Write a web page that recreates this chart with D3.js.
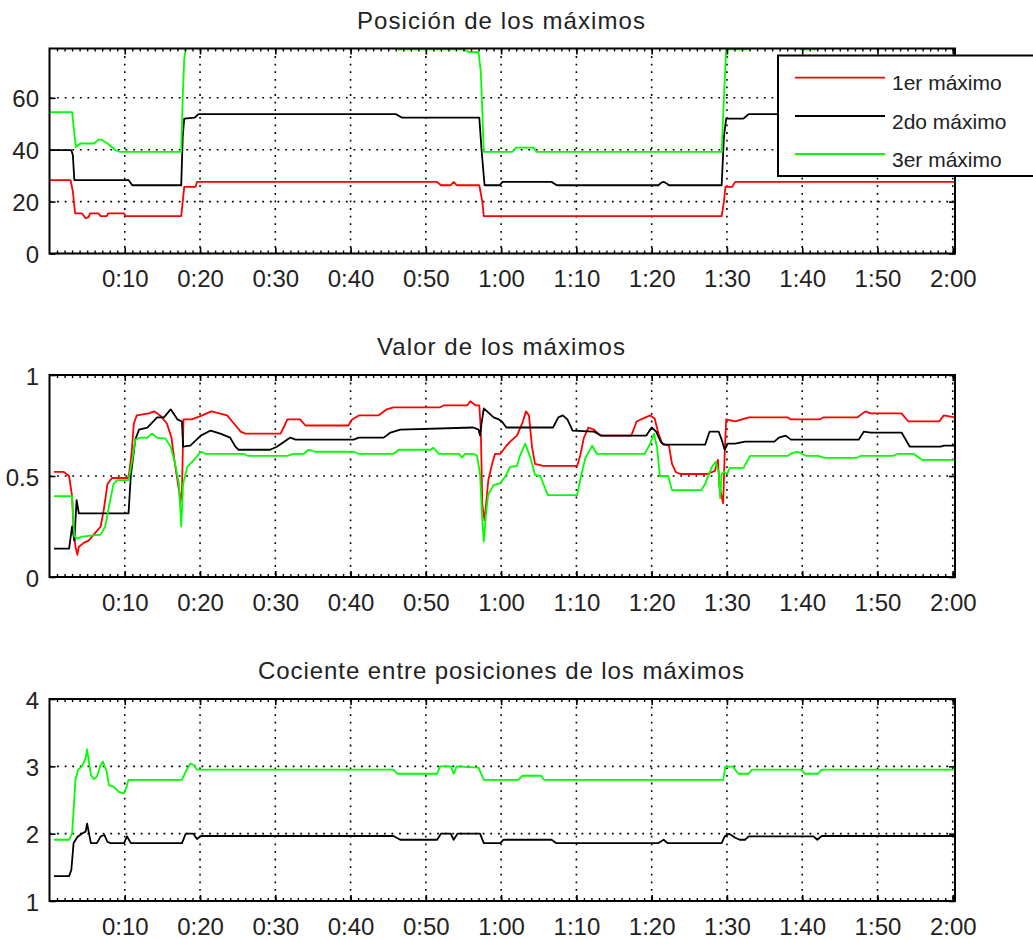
<!DOCTYPE html>
<html>
<head>
<meta charset="utf-8">
<script src="https://cdn.jsdelivr.net/npm/d3@7"></script>
<style>
  html, body { margin: 0; padding: 0; background: #fff; }
  svg { display: block; }
  text { font-family: "Liberation Sans", Arial, sans-serif; fill: #222; }
</style>
</head>
<body>
<script>
// ---------------- DATA ----------------
const xTicks = [10, 20, 30, 40, 50, 60, 70, 80, 90, 100, 110, 120];
const xTickLabels = ["0:10", "0:20", "0:30", "0:40", "0:50", "1:00", "1:10", "1:20", "1:30", "1:40", "1:50", "2:00"];
const xDomain = [0, 120.3];

const seriesNames = ["1er máximo", "2do máximo", "3er máximo"];
const seriesColors = ["#ff0000", "#000000", "#00ff00"];

const titles = ["Posición de los máximos", "Valor de los máximos", "Cociente entre posiciones de los máximos"];

// Panel 1: position of the maxima
const posYTicks = [0, 20, 40, 60];
const posYLabels = ["0", "20", "40", "60"];
const posYDomain = [0, 79];
const posT1 = [0, 2.8, 3.1, 3.4, 4.3, 4.8, 5.2, 5.4, 6.5, 6.8, 7.6, 7.8, 9.9, 10.1, 17.5, 17.7, 17.9, 19.4, 19.6, 51.5, 52.0, 53.3, 53.7, 54.1, 57.1, 57.5, 57.7, 89.3, 89.6, 89.8, 90.7, 91.1, 120.3];
const pos1  = [28.3, 28.3, 24, 15.5, 15.5, 13.6, 14, 15.5, 15.5, 14.4, 14.4, 15.5, 15.5, 14.4, 14.4, 20, 25.7, 25.7, 27.6, 27.6, 26.3, 26.3, 27.6, 26.3, 26.3, 20, 14.4, 14.4, 20, 25.7, 25.7, 27.6, 27.6];
const posT2 = [0, 2.9, 3.1, 3.3, 10.5, 11.0, 17.5, 17.7, 17.9, 19.3, 19.8, 46.0, 46.8, 57.1, 57.4, 57.8, 59.8, 60.2, 66.7, 67.4, 80.9, 81.3, 81.6, 82.0, 82.3, 89.3, 89.6, 89.9, 92.2, 92.9, 120.3];
const pos2  = [39.8, 39.8, 38, 28.3, 28.3, 26.3, 26.3, 45, 52, 52.4, 53.7, 53.7, 52.4, 52.4, 40, 26.3, 26.3, 27.6, 27.6, 26.3, 26.3, 27.3, 27.6, 27.0, 26.3, 26.3, 45, 52, 52, 53.7, 53.7];
const posT3 = [0, 3.0, 3.2, 3.5, 3.7, 4.1, 5.9, 6.5, 6.9, 7.7, 8.8, 9.3, 17.5, 17.7, 17.9, 18.1, 18.5, 45.8, 46.2, 54.8, 55.8, 57.0, 57.3, 57.7, 61.5, 62.0, 64.3, 64.7, 89.3, 89.6, 89.9, 90.2, 92.9, 93.3, 99.4, 99.8, 101.9, 102.3, 120.3];
const pos3  = [54.5, 54.5, 49, 41, 41.5, 42.4, 42.4, 43.9, 43.9, 42.4, 39.8, 39.2, 39.2, 60, 75, 78.7, 82, 82, 78.7, 78.7, 77.6, 77.6, 70, 39.2, 39.2, 40.8, 40.8, 39.2, 39.2, 60, 78.7, 78.7, 78.7, 82, 82, 78.7, 78.7, 82, 82];

// Panel 2: value of the maxima
const valYTicks = [0, 0.5, 1];
const valYLabels = ["0", "0.5", "1"];
const valYDomain = [0, 1];
const valT1 = [0.6, 1.9, 2.6, 3.0, 3.2, 3.45, 3.7, 3.9, 4.6, 5.2, 6.1, 6.8, 7.2, 7.7, 8.3, 10.5, 10.9, 11.2, 11.6, 13.2, 13.9, 14.7, 15.6, 16.2, 16.7, 17.2, 17.4, 17.6, 17.8, 18.9, 20.3, 21.5, 23.6, 24.5, 25.4, 26.0, 30.7, 31.1, 31.6, 33.3, 34.0, 39.7, 40.2, 41.1, 43.7, 44.8, 45.7, 51.9, 52.4, 55.5, 55.9, 56.6, 57.1, 57.3, 57.5, 57.8, 58.0, 58.3, 58.8, 59.2, 59.9, 60.6, 61.2, 62.1, 62.8, 63.3, 63.7, 64.1, 64.5, 65.6, 70.1, 70.5, 71.0, 71.6, 72.3, 73.2, 77.3, 78.0, 78.9, 79.8, 80.4, 80.9, 81.4, 82.3, 82.7, 83.2, 83.8, 87.4, 88.4, 88.8, 89.0, 89.5, 89.7, 89.9, 91.1, 92.9, 98.1, 98.5, 102.3, 102.8, 107.3, 108.4, 109.1, 113.2, 114.1, 118.2, 118.8, 120.3];
const val1  = [0.52, 0.52, 0.50, 0.40, 0.23, 0.15, 0.11, 0.15, 0.17, 0.18, 0.22, 0.25, 0.33, 0.46, 0.49, 0.49, 0.61, 0.76, 0.80, 0.81, 0.82, 0.80, 0.76, 0.69, 0.55, 0.43, 0.37, 0.43, 0.78, 0.78, 0.80, 0.82, 0.80, 0.76, 0.72, 0.71, 0.71, 0.74, 0.78, 0.78, 0.75, 0.75, 0.78, 0.80, 0.80, 0.83, 0.84, 0.84, 0.85, 0.85, 0.87, 0.85, 0.85, 0.73, 0.36, 0.28, 0.36, 0.48, 0.56, 0.61, 0.61, 0.645, 0.67, 0.70, 0.76, 0.82, 0.80, 0.645, 0.56, 0.55, 0.55, 0.60, 0.69, 0.74, 0.73, 0.70, 0.70, 0.77, 0.785, 0.80, 0.785, 0.71, 0.66, 0.65, 0.56, 0.52, 0.51, 0.51, 0.525, 0.58, 0.45, 0.365, 0.61, 0.78, 0.77, 0.79, 0.79, 0.78, 0.78, 0.79, 0.79, 0.82, 0.81, 0.81, 0.77, 0.77, 0.80, 0.79];
const valT2 = [0.6, 2.6, 3.0, 3.3, 3.6, 3.9, 10.5, 10.8, 11.4, 11.9, 13.0, 14.3, 15.2, 16.1, 17.0, 17.6, 17.75, 18.7, 20.1, 21.4, 22.7, 24.0, 24.7, 25.1, 29.3, 30.2, 32.0, 32.7, 40.4, 41.1, 44.4, 45.3, 46.6, 56.3, 57.0, 57.2, 57.4, 57.7, 59.0, 59.7, 60.1, 60.7, 66.9, 67.6, 68.2, 68.8, 69.5, 72.3, 73.3, 79.3, 80.0, 80.6, 81.2, 81.6, 87.1, 87.7, 88.9, 89.3, 89.7, 90.1, 91.1, 92.4, 96.3, 96.9, 97.8, 98.5, 107.5, 108.2, 109.1, 113.2, 114.3, 118.4, 118.8, 120.3];
const val2  = [0.14, 0.14, 0.25, 0.18, 0.38, 0.315, 0.315, 0.50, 0.68, 0.73, 0.74, 0.79, 0.79, 0.83, 0.78, 0.77, 0.645, 0.65, 0.70, 0.725, 0.71, 0.69, 0.645, 0.63, 0.63, 0.645, 0.69, 0.68, 0.68, 0.69, 0.69, 0.715, 0.73, 0.74, 0.73, 0.70, 0.76, 0.835, 0.79, 0.78, 0.77, 0.74, 0.74, 0.79, 0.80, 0.78, 0.725, 0.72, 0.70, 0.70, 0.74, 0.72, 0.67, 0.655, 0.655, 0.72, 0.72, 0.68, 0.63, 0.66, 0.66, 0.67, 0.67, 0.69, 0.70, 0.68, 0.68, 0.72, 0.715, 0.715, 0.645, 0.645, 0.65, 0.65];
const valT3 = [0.6, 3.0, 3.3, 3.7, 4.3, 6.8, 7.4, 7.9, 8.5, 9.0, 10.5, 11.0, 11.4, 12.1, 13.0, 13.6, 14.3, 15.4, 16.1, 16.7, 17.2, 17.5, 17.75, 18.3, 19.2, 20.1, 20.7, 25.8, 26.3, 31.6, 32.4, 33.8, 34.4, 35.3, 40.4, 41.1, 45.7, 46.4, 50.6, 51.0, 51.7, 54.4, 54.8, 55.2, 56.3, 56.8, 57.2, 57.5, 57.7, 58.0, 58.3, 59.0, 59.9, 60.6, 61.2, 62.1, 62.5, 63.2, 63.9, 64.5, 65.2, 66.2, 70.1, 70.5, 71.2, 72.1, 72.7, 79.1, 79.8, 80.3, 80.7, 81.1, 82.2, 82.7, 86.6, 87.1, 88.0, 88.5, 88.9, 89.1, 89.3, 89.6, 90.0, 90.4, 92.2, 93.1, 98.1, 98.7, 99.4, 100.5, 102.1, 103.0, 107.3, 107.8, 112.1, 112.7, 114.8, 115.9, 120.3];
const val3  = [0.40, 0.40, 0.20, 0.19, 0.20, 0.21, 0.25, 0.35, 0.46, 0.48, 0.48, 0.58, 0.68, 0.69, 0.69, 0.71, 0.69, 0.685, 0.645, 0.56, 0.46, 0.25, 0.46, 0.545, 0.58, 0.62, 0.61, 0.61, 0.60, 0.60, 0.61, 0.61, 0.63, 0.62, 0.62, 0.61, 0.61, 0.63, 0.63, 0.64, 0.61, 0.61, 0.59, 0.61, 0.61, 0.60, 0.51, 0.28, 0.175, 0.315, 0.41, 0.455, 0.465, 0.50, 0.545, 0.55, 0.60, 0.66, 0.59, 0.505, 0.50, 0.405, 0.405, 0.48, 0.59, 0.65, 0.61, 0.61, 0.66, 0.71, 0.645, 0.50, 0.50, 0.43, 0.43, 0.46, 0.545, 0.57, 0.52, 0.39, 0.51, 0.52, 0.51, 0.54, 0.54, 0.60, 0.60, 0.615, 0.62, 0.60, 0.60, 0.59, 0.59, 0.60, 0.60, 0.61, 0.61, 0.58, 0.58];

// Panel 3: ratio between positions of the maxima
const cocYTicks = [1, 2, 3, 4];
const cocYLabels = ["1", "2", "3", "4"];
const cocYDomain = [1, 4];
const cocT2 = [0.6, 2.6, 2.9, 3.2, 3.7, 4.3, 4.8, 5.0, 5.2, 5.5, 6.3, 6.8, 7.3, 7.7, 8.1, 9.9, 10.3, 10.8, 17.6, 18.1, 19.1, 19.6, 20.1, 45.7, 46.6, 51.5, 52.0, 53.3, 53.7, 54.2, 57.2, 57.7, 59.9, 60.3, 66.7, 67.3, 80.9, 81.6, 82.1, 89.3, 89.7, 90.3, 91.1, 91.7, 92.4, 92.9, 101.5, 102.0, 102.6, 120.3];
const coc2  = [1.37, 1.37, 1.46, 1.86, 1.95, 2.0, 2.03, 2.15, 2.03, 1.86, 1.86, 1.96, 1.98, 1.88, 1.86, 1.86, 1.96, 1.86, 1.86, 2.0, 2.0, 1.92, 1.965, 1.965, 1.91, 1.91, 2.0, 2.0, 1.91, 2.0, 2.0, 1.86, 1.86, 1.91, 1.91, 1.86, 1.86, 1.91, 1.86, 1.86, 1.96, 2.0, 1.94, 1.91, 1.91, 1.96, 1.96, 1.91, 1.965, 1.965];
const cocT3 = [0.6, 2.6, 3.0, 3.2, 3.45, 3.8, 4.3, 4.8, 5.0, 5.2, 5.5, 5.9, 6.3, 6.8, 7.1, 7.6, 7.9, 8.5, 9.2, 9.9, 10.2, 10.5, 17.6, 18.1, 18.7, 19.2, 19.6, 45.7, 46.2, 51.5, 51.9, 53.3, 53.7, 54.1, 57.0, 57.7, 62.3, 62.8, 65.3, 65.7, 89.5, 89.8, 90.8, 91.5, 92.9, 93.3, 99.9, 100.3, 102.1, 102.6, 120.3];
const coc3  = [1.91, 1.91, 2.0, 2.35, 2.80, 2.95, 3.0, 3.12, 3.25, 3.1, 2.87, 2.81, 2.85, 3.02, 3.07, 2.92, 2.72, 2.70, 2.62, 2.60, 2.68, 2.80, 2.80, 2.92, 3.04, 3.02, 2.95, 2.95, 2.89, 2.89, 3.0, 3.0, 2.89, 3.0, 2.98, 2.80, 2.80, 2.86, 2.86, 2.80, 2.80, 2.995, 2.995, 2.89, 2.89, 2.95, 2.95, 2.89, 2.89, 2.95, 2.95];

// ---------------- LAYOUT ----------------
const W = 1033, H = 940;
const plotLeft = 49.5, plotRight = 955;
const panels = [
  { title: titles[0], titleY: 29, titleLen: 288, top: 48.5, bottom: 253.5, domain: posYDomain, ticks: posYTicks, labels: posYLabels,
    series: [[posT1, pos1, 0], [posT2, pos2, 1], [posT3, pos3, 2]] },
  { title: titles[1], titleY: 355, titleLen: 248, top: 375, bottom: 577, domain: valYDomain, ticks: valYTicks, labels: valYLabels,
    series: [[valT1, val1, 0], [valT2, val2, 1], [valT3, val3, 2]] },
  { title: titles[2], titleY: 679, titleLen: 486, top: 699, bottom: 901, domain: cocYDomain, ticks: cocYTicks, labels: cocYLabels,
    series: [[cocT2, coc2, 1], [cocT3, coc3, 2]] }
];

const svg = d3.select("body").append("svg").attr("width", W).attr("height", H);
const x = d3.scaleLinear().domain(xDomain).range([plotLeft, plotRight]);
const minorTicks = d3.range(1, 121);

panels.forEach((p, pi) => {
  const y = d3.scaleLinear().domain(p.domain).range([p.bottom, p.top]);
  const g = svg.append("g");

  // clip
  const clipId = "clip" + pi;
  svg.append("clipPath").attr("id", clipId).append("rect")
    .attr("x", plotLeft).attr("y", p.top).attr("width", plotRight - plotLeft).attr("height", p.bottom - p.top);

  // white plot background
  g.append("rect").attr("x", plotLeft).attr("y", p.top).attr("width", plotRight - plotLeft)
    .attr("height", p.bottom - p.top).attr("fill", "#fff");

  // grid
  const grid = g.append("g").attr("stroke", "#000").attr("stroke-width", 1.6).attr("stroke-dasharray", "1.8,5.8");
  grid.selectAll("line.v").data(xTicks).join("line").attr("class", "v")
    .attr("x1", d => x(d)).attr("x2", d => x(d)).attr("y1", p.top).attr("y2", p.bottom);
  grid.selectAll("line.h").data(p.ticks).join("line").attr("class", "h")
    .attr("x1", plotLeft).attr("x2", plotRight).attr("y1", d => y(d)).attr("y2", d => y(d));

  // series
  const line = d3.line().x(d => x(d[0])).y(d => y(d[1]));
  const lg = g.append("g").attr("clip-path", `url(#${clipId})`);
  p.series.forEach(([ts, vs, ci]) => {
    lg.append("path").datum(ts.map((t, i) => [t, vs[i]]))
      .attr("d", line).attr("fill", "none").attr("stroke", seriesColors[ci])
      .attr("stroke-width", 1.8).attr("stroke-linejoin", "round");
  });

  // axes: bottom major with labels
  const axB = g.append("g").attr("transform", `translate(0,${p.bottom})`)
    .call(d3.axisBottom(x).tickValues(xTicks).tickFormat((d, i) => xTickLabels[i])
      .tickSizeInner(-6).tickSizeOuter(0).tickPadding(16.5));
  axB.select(".domain").remove();
  axB.selectAll("line").attr("stroke", "#000").attr("stroke-width", 1.6);
  axB.selectAll("text").attr("font-size", 24).attr("fill", "#222")
    .style("font-family", '"Liberation Sans", Arial, sans-serif');

  // minor ticks bottom & top
  const axBm = g.append("g").attr("transform", `translate(0,${p.bottom})`)
    .call(d3.axisBottom(x).tickValues(minorTicks).tickFormat("").tickSizeInner(-3).tickSizeOuter(0));
  axBm.select(".domain").remove();
  axBm.selectAll("line").attr("stroke", "#000").attr("stroke-width", 1.4);
  const axT = g.append("g").attr("transform", `translate(0,${p.top})`)
    .call(d3.axisTop(x).tickValues(xTicks).tickFormat("").tickSizeInner(-6).tickSizeOuter(0));
  axT.select(".domain").remove();
  axT.selectAll("line").attr("stroke", "#000").attr("stroke-width", 1.6);
  const axTm = g.append("g").attr("transform", `translate(0,${p.top})`)
    .call(d3.axisTop(x).tickValues(minorTicks).tickFormat("").tickSizeInner(-3).tickSizeOuter(0));
  axTm.select(".domain").remove();
  axTm.selectAll("line").attr("stroke", "#000").attr("stroke-width", 1.4);

  // y axes
  const axL = g.append("g").attr("transform", `translate(${plotLeft},0)`)
    .call(d3.axisLeft(y).tickValues(p.ticks).tickFormat((d, i) => p.labels[i])
      .tickSizeInner(-6).tickSizeOuter(0).tickPadding(10.5));
  axL.select(".domain").remove();
  axL.selectAll("line").attr("stroke", "#000").attr("stroke-width", 1.6);
  axL.selectAll("text").attr("font-size", 24).attr("fill", "#222").attr("dy", "0.38em")
    .style("font-family", '"Liberation Sans", Arial, sans-serif');
  const axR = g.append("g").attr("transform", `translate(${plotRight},0)`)
    .call(d3.axisRight(y).tickValues(p.ticks).tickFormat("").tickSizeInner(-6).tickSizeOuter(0));
  axR.select(".domain").remove();
  axR.selectAll("line").attr("stroke", "#000").attr("stroke-width", 1.6);

  // frame
  g.append("rect").attr("x", plotLeft).attr("y", p.top).attr("width", plotRight - plotLeft)
    .attr("height", p.bottom - p.top).attr("fill", "none").attr("stroke", "#000").attr("stroke-width", 2);

  // title
  g.append("text").attr("x", 501).attr("y", p.titleY).attr("text-anchor", "middle")
    .attr("font-size", 24).attr("textLength", p.titleLen).attr("lengthAdjust", "spacing").text(p.title);
});

// legend (top panel)
const leg = svg.append("g");
leg.append("rect").attr("x", 778).attr("y", 55.5).attr("width", 300).attr("height", 120.5)
  .attr("fill", "#fff").attr("stroke", "#000").attr("stroke-width", 2);
const legY = [77.7, 116, 154];
seriesNames.forEach((name, i) => {
  leg.append("line").attr("x1", 795).attr("x2", 885).attr("y1", legY[i]).attr("y2", legY[i])
    .attr("stroke", seriesColors[i]).attr("stroke-width", 1.8);
  leg.append("text").attr("x", 892).attr("y", legY[i] + 12.5).attr("font-size", 21).text(name);
});
</script>
</body>
</html>
